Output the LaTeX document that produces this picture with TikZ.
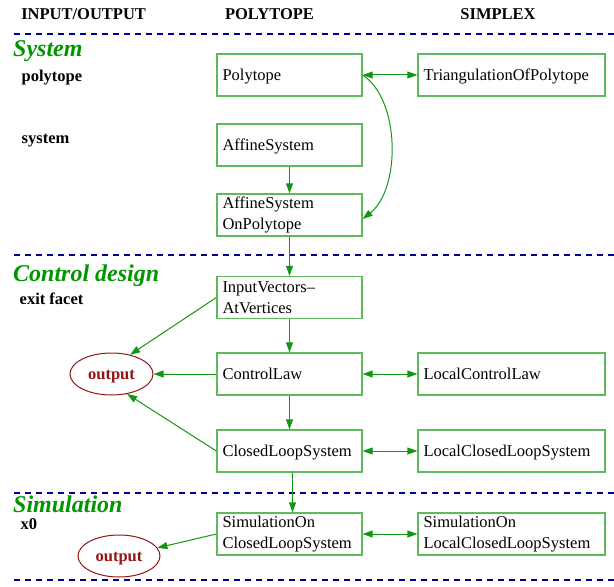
\documentclass[tikz,border=0pt]{standalone}
\usepackage{fontspec}
\setmainfont{Liberation Serif}
\usetikzlibrary{arrows.meta,shapes.geometric}
\definecolor{boxgreen}{RGB}{95,185,95}
\definecolor{argreen}{RGB}{20,150,20}
\definecolor{secgreen}{RGB}{0,150,0}
\definecolor{navy}{RGB}{0,0,150}
\definecolor{dred}{RGB}{150,20,20}
\begin{document}
\begin{tikzpicture}[x=1bp,y=-1bp,
  every node/.style={font=\fontsize{16.5bp}{21.5bp}\selectfont},
  box/.style={draw=boxgreen,line width=1.3bp,rectangle,minimum width=145bp,minimum height=42bp,
    inner xsep=5.5bp,inner ysep=0bp,text width=134bp,align=left},
  one/.style={text height=15.5bp,text depth=3.6bp},
  wbox/.style={box,minimum width=187bp,text width=176bp},
  outp/.style={draw=dred,line width=1bp,ellipse,minimum width=83bp,minimum height=42bp,inner sep=0bp,
    text=dred,text height=15.5bp,text depth=3.6bp,font=\fontsize{16.5bp}{21.5bp}\selectfont\bfseries},
  conn/.style={draw=argreen,line width=1bp,-{Triangle[length=10bp,width=7bp]}},
  dconn/.style={draw=argreen,line width=1bp,{Triangle[length=10bp,width=7bp]}-{Triangle[length=10bp,width=7bp]}},
  sep/.style={draw=navy,line width=2.6bp,dash pattern=on 6bp off 5bp},
  hdr/.style={anchor=base,font=\fontsize{16.5bp}{21.5bp}\selectfont\bfseries},
  sect/.style={anchor=base west,text=secgreen,inner sep=0bp,font=\fontsize{24bp}{28bp}\selectfont\bfseries\itshape},
  lbl/.style={anchor=base west,inner sep=0bp,font=\fontsize{16.5bp}{21.5bp}\selectfont\bfseries}]
\useasboundingbox (0,0) rectangle (614,587);
% separators
\draw[sep] (14,34) -- (614,34);
\draw[sep] (14,255) -- (614,255);
\draw[sep] (14,493) -- (614,493);
\draw[sep] (14,580) -- (614,580);
% headers
\node[hdr] (h1) at (83.6,19.5) {INPUT/OUTPUT};
\node[hdr] (h2) at (269.5,19.5) {POLYTOPE};
\node[hdr] (h3) at (498,19.5) {SIMPLEX};
% sections
\node[sect] (s1) at (13,56.5) {System};
\node[sect] (s2) at (13,281.7) {Control design};
\node[sect] (s3) at (13,512.5) {Simulation};
% left labels
\node[lbl] (l1) at (21.5,81.5) {polytope};
\node[lbl] (l2) at (21.5,144) {system};
\node[lbl] (l3) at (19.5,304) {exit facet};
\node[lbl] (l4) at (20.5,529.5) {x0};
% boxes
\node[box,one] (poly) at (289.5,75) {Polytope};
\node[wbox,one] (tri) at (511.5,75) {TriangulationOfPolytope};
\node[box,one] (aff) at (289.5,145) {AffineSystem};
\node[box] (affp) at (289.5,215) {AffineSystem\\OnPolytope};
\node[box] (ivav) at (289.5,297.5) {InputVectors--\\AtVertices};
\node[box,one] (cl) at (289.5,374) {ControlLaw};
\node[wbox,one] (lcl) at (511.5,374) {LocalControlLaw};
\node[box,one] (cls) at (289.5,451) {ClosedLoopSystem};
\node[wbox,one] (lcls) at (511.5,451) {LocalClosedLoopSystem};
\node[box] (sim) at (289.5,534) {SimulationOn\\ClosedLoopSystem};
\node[wbox] (lsim) at (511.5,534) {SimulationOn\\LocalClosedLoopSystem};
% outputs
\node[outp] (out1) at (111.5,374) {output};
\node[outp,minimum width=82bp] (out2) at (119,556) {output};
% connectors
\draw[dconn] (poly.east) -- (tri.west);
\draw[conn] (poly.east) .. controls +(38,25) and +(38,-30) .. ([yshift=-4bp]affp.east);
\draw[conn] (aff.south) -- (affp.north);
\draw[conn] (affp.south) -- (ivav.north);
\draw[conn] (ivav.south) -- (cl.north);
\draw[conn] (cl.south) -- (cls.north);
\draw[conn] ([xshift=3bp]cls.south) -- ([xshift=3bp]sim.north);
\draw[dconn] (cl.east) -- (lcl.west);
\draw[dconn] (cls.east) -- (lcls.west);
\draw[dconn] (sim.east) -- (lsim.west);
\draw[conn] (ivav.west) -- (out1.46);
\draw[conn] (cl.west) -- (out1.east);
\draw[conn] (cls.west) -- (out1.-52);
\draw[conn] (sim.west) -- (out2.12);
\end{tikzpicture}
\end{document}
